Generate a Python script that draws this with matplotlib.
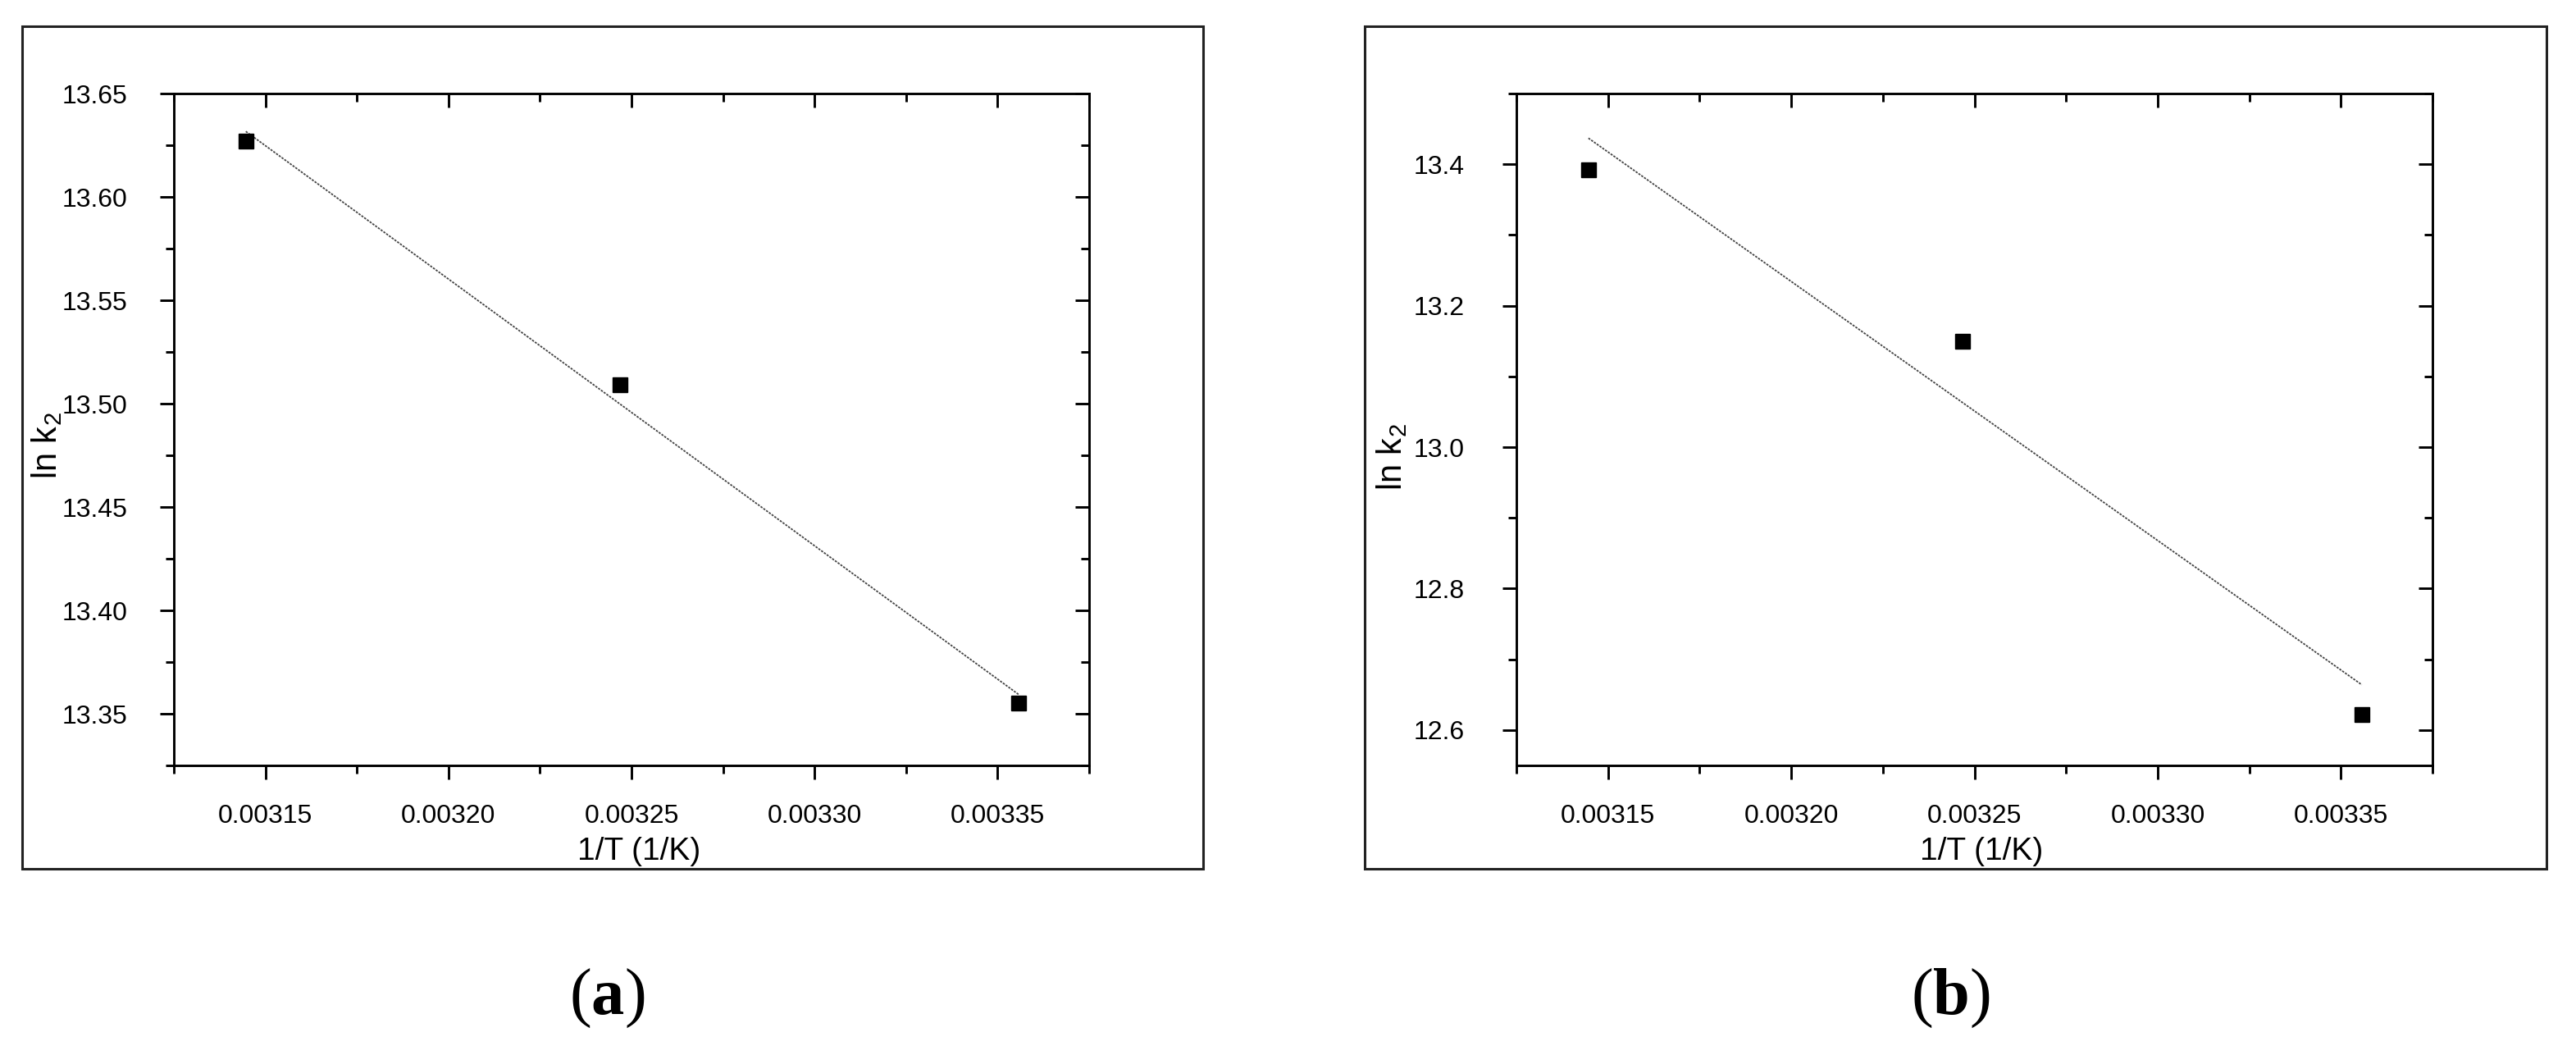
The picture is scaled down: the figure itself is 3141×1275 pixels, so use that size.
import numpy as np
import matplotlib
matplotlib.use("Agg")
import matplotlib.pyplot as plt
from matplotlib.patches import Rectangle
from matplotlib.ticker import FixedLocator, FormatStrFormatter

plt.rcParams['font.family'] = ['Liberation Sans', 'DejaVu Sans']
plt.rcParams['mathtext.fontset'] = 'custom'
plt.rcParams['mathtext.rm'] = 'Liberation Sans'
plt.rcParams['mathtext.it'] = 'Liberation Sans:italic'
plt.rcParams['mathtext.bf'] = 'Liberation Serif:bold'

# 1/T for 318, 308, 298 K
inv_T = [1 / 318, 1 / 308, 1 / 298]
lnk2_a = [13.627, 13.509, 13.355]
lnk2_b = [13.392, 13.150, 12.622]

x_major = [0.00315, 0.00320, 0.00325, 0.00330, 0.00335]
x_minor = [0.003125, 0.003175, 0.003225, 0.003275, 0.003325, 0.003375]
x_lim = (0.003125, 0.003375)

ya_major = [13.35, 13.40, 13.45, 13.50, 13.55, 13.60, 13.65]
ya_minor = [13.325, 13.375, 13.425, 13.475, 13.525, 13.575, 13.625]
ya_lim = (13.325, 13.65)

yb_major = [12.6, 12.8, 13.0, 13.2, 13.4]
yb_minor = [12.7, 12.9, 13.1, 13.3, 13.5]
yb_lim = (12.55, 13.5)

W, H = 3141, 1275
fig = plt.figure(figsize=(W / 100, H / 100), dpi=100)

# outer boxes around each panel (pixel edges)
for x0, x1 in [(27, 1467), (1664, 3105)]:
    fig.patches.append(Rectangle((x0 / W, 1 - 1059 / H), (x1 - x0) / W, (1059 - 32) / H,
                                 transform=fig.transFigure, fill=False, lw=2.2, ec='#222222'))


def panel(left, right, y, ymaj, ymin, ylim, yfmt, ypad):
    ax = fig.add_axes([left / W, 1 - 933 / H, (right - left) / W, (933 - 114) / H])
    ax.plot(inv_T, y, 's', color='black', ms=13, zorder=3)
    slope, icpt = np.polyfit(inv_T, y, 1)
    xs = np.array([inv_T[0], inv_T[-1]])
    ax.plot(xs, slope * xs + icpt, color='#444444', lw=1.3, ls=(0, (1.5, 0.8)))
    ax.set_xlim(*x_lim)
    ax.set_ylim(*ylim)
    ax.xaxis.set_major_locator(FixedLocator(x_major))
    ax.xaxis.set_minor_locator(FixedLocator(x_minor))
    ax.yaxis.set_major_locator(FixedLocator(ymaj))
    ax.yaxis.set_minor_locator(FixedLocator(ymin))
    ax.xaxis.set_major_formatter(FormatStrFormatter('%.5f'))
    ax.yaxis.set_major_formatter(FormatStrFormatter(yfmt))
    for s in ax.spines.values():
        s.set_linewidth(2.1)
    ax.tick_params(which='major', direction='out', length=12.5, width=2.1, labelsize=23)
    ax.tick_params(which='minor', direction='out', length=7, width=2.1)
    ax.tick_params(axis='x', which='major', pad=21)
    ax.tick_params(axis='y', which='major', pad=ypad)
    # inward ticks on top and right
    top = ax.secondary_xaxis('top')
    top.xaxis.set_major_locator(FixedLocator(x_major))
    top.xaxis.set_minor_locator(FixedLocator(x_minor))
    top.tick_params(which='major', direction='in', length=12.5, width=2.1, labeltop=False)
    top.tick_params(which='minor', direction='in', length=7, width=2.1)
    right_ax = ax.secondary_yaxis('right')
    right_ax.yaxis.set_major_locator(FixedLocator(ymaj))
    right_ax.yaxis.set_minor_locator(FixedLocator(ymin))
    right_ax.tick_params(which='major', direction='in', length=12.5, width=2.1, labelright=False)
    right_ax.tick_params(which='minor', direction='in', length=7, width=2.1)
    ax.set_xlabel('1/T (1/K)', fontsize=28)
    ax.set_ylabel('ln k$_2$', fontsize=30)
    return ax


ax_a = panel(212, 1328, lnk2_a, ya_major, ya_minor, ya_lim, '%.2f', 28)
ax_a.xaxis.set_label_coords(0.508, -0.106)
ax_a.yaxis.set_label_coords(-0.120, 0.476)

ax_b = panel(1849, 2966, lnk2_b, yb_major, yb_minor, yb_lim, '%.1f', 33)
ax_b.xaxis.set_label_coords(0.508, -0.106)
ax_b.yaxis.set_label_coords(-0.117, 0.459)

for cx, letter in [(740, 'a'), (2378, 'b')]:
    fig.text(cx / W, 1 - 1217 / H, r'($\mathbf{%s}$)' % letter, fontsize=58,
             family='Liberation Serif', ha='center', va='center')

fig.savefig('out.png', dpi=100, facecolor='white')
